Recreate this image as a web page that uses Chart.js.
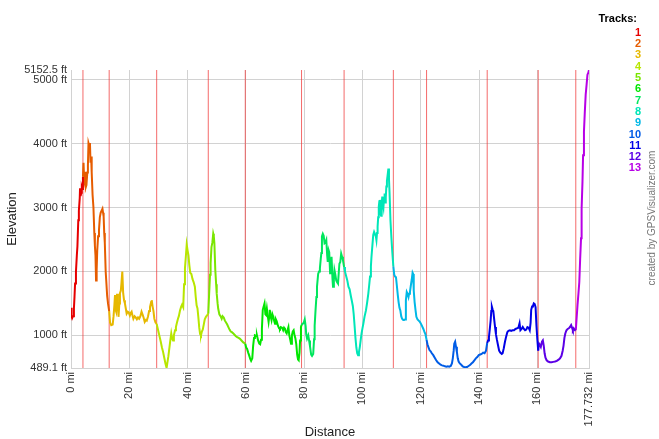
<!DOCTYPE html>
<html><head><meta charset="utf-8">
<script src="https://cdn.jsdelivr.net/npm/chart.js@4/dist/chart.umd.min.js"></script>
<style>html,body{margin:0;padding:0;background:#fff}#wrap{width:659px;height:439px;position:relative}</style>
</head><body><div id="wrap"><canvas id="c" width="659" height="439"></canvas></div>
<script>
// ---- data ----
const distanceMi = [
0,0.2,0.4,0.7,1.0,1.2,1.4,1.7,2.0,2.2,2.5,2.7,3.0,3.1,3.3,3.5,3.7,3.9,4.1,
4.3,4.5,4.7,4.9,5.1,5.3,5.6,5.8,6.0,6.3,6.5,6.7,6.9,7.1,7.4,7.7,8.0,8.2,8.4,8.6,8.8,9.0,9.3,9.6,9.9,10.2,10.5,10.8,11.0,11.2,11.4,11.6,11.9,12.1,12.4,12.7,13.1,
13.4,13.8,14.3,14.6,14.9,15.1,15.3,15.5,15.8,16.1,16.3,16.6,16.8,17.1,17.3,17.6,17.9,18.2,18.5,18.8,19.1,19.5,19.8,20.2,20.5,20.8,21.1,21.4,21.8,22.2,22.6,23.0,23.4,23.8,24.2,24.6,24.9,25.3,25.7,26.0,26.4,26.8,27.1,27.5,27.7,28.0,28.3,28.6,29.0,29.4,
29.8,30.3,30.8,31.2,31.6,32.0,32.4,32.8,33.1,33.4,33.8,34.1,34.4,34.7,35.0,35.3,35.7,36.0,36.3,36.7,37.0,37.4,37.8,38.1,38.5,38.8,39.1,39.4,39.7,40.0,40.3,40.6,40.9,41.3,41.7,42.1,42.5,42.8,43.1,43.4,43.7,44.0,44.3,44.6,44.9,45.2,45.6,45.9,46.3,46.8,47.1,
47.4,47.7,47.9,48.2,48.5,48.8,49.0,49.2,49.5,49.8,50.0,50.3,50.5,50.9,51.3,51.7,52.0,52.4,52.8,53.2,53.6,54.0,54.4,54.8,55.2,55.7,56.1,56.5,57.0,57.5,58.0,58.5,59.1,59.8,
60.1,60.4,60.8,61.1,61.5,61.8,62.2,62.5,62.8,63.1,63.5,63.8,64.2,64.6,64.9,65.2,65.5,65.8,66.1,66.4,66.7,66.9,67.2,67.5,67.8,68.0,68.2,68.5,68.8,69.1,69.4,69.7,70.0,70.3,70.6,71.0,71.4,71.7,72.0,72.4,72.8,73.1,73.4,73.7,74.0,74.4,74.6,74.9,75.2,75.5,75.8,76.1,76.4,76.7,77.0,77.3,77.6,77.9,78.1,78.4,78.6,78.9,79.1,
79.4,79.8,80.2,80.5,80.7,81.0,81.4,81.7,82.0,82.4,82.7,83.1,83.4,83.6,83.9,84.2,84.4,84.8,85.1,85.4,85.7,85.9,86.1,86.4,86.7,87.0,87.3,87.6,87.9,88.1,88.4,88.6,88.9,89.1,89.4,89.7,89.9,90.2,90.4,90.7,91.0,91.3,91.6,91.9,92.1,92.4,92.7,93.0,93.3,93.7,
94.0,94.4,94.8,95.2,95.6,96.0,96.4,96.7,97.0,97.3,97.6,97.9,98.2,98.5,98.8,99.1,99.4,99.7,100.0,100.3,100.7,101.2,101.6,102.0,102.3,102.6,102.9,103.1,103.4,103.7,104.0,104.3,104.6,104.8,105.0,105.2,105.4,105.6,105.8,106.0,106.2,106.4,106.6,106.8,107.0,107.2,107.4,107.6,107.8,108.0,108.2,108.4,108.6,108.9,109.1,109.3,109.6,109.9,110.2,110.6,
110.9,111.2,111.5,111.8,112.1,112.4,112.7,113.0,113.3,113.6,114.0,114.3,114.6,114.9,115.2,115.5,115.8,116.0,116.3,116.6,116.9,117.2,117.4,117.6,117.9,118.2,118.5,118.9,119.3,119.7,120.1,120.5,120.9,121.3,121.6,122.0,
122.3,122.6,123.0,123.4,123.8,124.3,124.8,125.3,125.8,126.3,126.8,127.3,127.8,128.3,128.8,129.3,129.8,130.3,130.7,131.0,131.3,131.5,131.8,132.1,132.4,132.7,133.0,133.4,133.9,134.4,134.9,135.4,135.9,136.4,136.9,137.4,137.9,138.4,138.9,139.4,139.9,140.4,140.9,141.4,141.9,142.4,142.8,
143.1,143.4,143.7,144.0,144.2,144.4,144.7,144.9,145.2,145.5,145.8,146.1,146.5,146.9,147.3,147.8,148.1,148.5,148.9,149.3,149.7,150.1,150.6,151.0,151.5,152.0,152.5,153.0,153.5,153.9,154.2,154.6,155.0,155.4,155.8,156.2,156.6,157.0,157.4,157.7,157.9,158.2,158.5,158.8,159.1,159.4,159.7,160.0,160.3,
160.6,160.9,161.2,161.6,161.9,162.2,162.5,162.8,163.2,163.7,164.3,164.9,165.5,166.1,166.7,167.3,167.8,168.3,168.7,169.0,169.3,169.6,170.0,170.4,170.8,171.2,171.6,171.9,172.2,172.5,172.9,173.2,
173.5,173.8,174.1,174.4,174.7,175.0,175.2,175.5,175.7,176.0,176.3,176.6,176.9,177.2,177.5,177.732
];
const elevationFt = [
1430,1300,1270,1300,1420,1600,1810,2000,2250,2390,2800,2950,3150,3300,3180,3230,3320,3290,3480,
3700,3420,3380,3560,3320,3350,3550,3650,4010,3960,4010,3700,3800,3550,3200,3000,2600,2400,2250,1860,2020,2330,2550,2650,2850,2920,2950,2980,2920,2860,2600,2450,2000,1850,1620,1500,1380,
1200,1160,1170,1300,1480,1630,1400,1370,1650,1520,1290,1500,1660,1700,1810,2000,1660,1550,1500,1420,1340,1370,1360,1310,1350,1370,1310,1260,1300,1280,1250,1280,1260,1300,1370,1320,1280,1210,1240,1230,1290,1380,1440,1520,1550,1450,1380,1260,1200,1180,
1100,1000,900,810,740,650,560,489.1,580,670,820,930,1030,950,920,1000,1080,1130,1190,1260,1300,1390,1450,1480,1440,1800,2050,2230,2420,2330,2250,2100,1980,1960,1880,1830,1760,1600,1470,1420,1280,1120,1020,1000,1060,1090,1180,1250,1290,1320,1340,
1650,1950,2130,2380,2450,2590,2550,2440,2030,1800,1650,1500,1420,1330,1300,1260,1300,1280,1230,1200,1170,1130,1090,1060,1050,1030,1010,990,970,960,945,920,890,870,
810,790,730,690,630,600,640,840,960,1000,990,1000,920,870,860,930,1100,1400,1450,1500,1330,1320,1420,1310,1210,1280,1400,1300,1240,1330,1290,1230,1180,1250,1220,1150,1110,1100,1130,1120,1080,1120,1100,1050,1030,1100,1130,1000,940,870,1000,1060,1080,1000,950,860,700,620,610,730,920,1130,1160,
1180,1190,1250,1150,1020,950,1000,920,830,700,680,710,940,1150,1390,1600,1760,1960,2000,2050,2200,2290,2550,2590,2560,2440,2450,2490,2250,2150,2330,2300,1970,2050,2230,1900,1760,1870,2020,1950,1860,1830,1810,2000,2120,2150,2280,2230,2180,2070,
2000,1930,1860,1760,1720,1620,1530,1460,1330,1150,960,810,720,690,740,820,930,1030,1110,1180,1290,1390,1510,1650,1780,1920,2080,2230,2400,2570,2620,2620,2550,2490,2600,2700,2850,3010,3100,3120,2900,2870,3050,3170,3050,3000,3150,3220,3080,3150,3330,3420,3490,3610,3450,3230,2810,2550,2330,2080,
1950,1920,1910,1780,1640,1520,1430,1390,1300,1260,1240,1240,1250,1550,1680,1650,1600,1650,1680,1780,1870,1980,1960,1700,1520,1400,1290,1250,1230,1210,1180,1140,1100,1050,1020,930,
860,820,770,750,720,690,650,610,580,560,540,530,525,515,510,515,510,520,560,640,760,870,900,820,740,640,590,560,540,515,505,500,505,520,535,560,580,610,640,660,690,700,710,730,720,760,880,
920,970,1100,1240,1380,1450,1400,1380,1250,1130,1020,940,850,760,730,710,720,800,900,980,1050,1070,1080,1070,1080,1080,1100,1110,1120,1190,1080,1100,1130,1100,1080,1090,1130,1120,1080,1200,1400,1450,1460,1500,1490,1440,1150,940,760,
870,850,820,900,920,840,720,650,610,590,580,580,585,590,600,620,640,680,760,840,960,1030,1080,1100,1110,1130,1160,1120,1080,1110,1080,1080,
1280,1480,1650,1830,2200,2520,2990,3410,3820,4190,4500,4770,4920,5080,5110,5152.5
];
const trackBreaksMi = [4.1, 13.1, 29.4, 47.1, 59.8, 79.1, 93.7, 110.6, 122.0, 142.8, 160.3, 173.2];
const trackLabels = ['1','2','3','4','5','6','7','8','9','10','11','12','13'];
const trackColors = ['#e60000','#e65c00','#e6b800','#b8e600','#7ae600','#00e600','#00e65c','#00e6b8','#00b8e6','#005ce6','#0000e6','#5c00e6','#b800e6'];
const xTickValues = [0, 20, 40, 60, 80, 100, 120, 140, 160, 177.732];
const yTickValues = [489.1, 1000, 2000, 3000, 4000, 5000, 5152.5];
const xMin = 0, xMax = 177.732, yMin = 489.1, yMax = 5152.5;

// ---- build datasets, one per track ----
const bounds = [xMin, ...trackBreaksMi, xMax];
const datasets = trackLabels.map((lab, i) => {
  const pts = [];
  for (let k = 0; k < distanceMi.length; k++) {
    const d = distanceMi[k];
    if (d >= bounds[i] - 1e-9 && d <= bounds[i + 1] + 1e-9) pts.push({x: d, y: elevationFt[k]});
  }
  return {label: lab, data: pts, borderColor: trackColors[i], backgroundColor: trackColors[i],
    borderWidth: 2, pointRadius: 0, tension: 0, fill: false};
});

const FONT = "'Liberation Sans', Arial, sans-serif";

const decor = {
  id: 'decor',
  beforeDatasetsDraw(chart) {
    const {ctx, chartArea, scales} = chart;
    ctx.save();
    ctx.strokeStyle = 'rgba(240,50,50,0.72)';
    ctx.lineWidth = 1;
    trackBreaksMi.forEach(b => {
      const x = scales.x.getPixelForValue(b);
      ctx.beginPath(); ctx.moveTo(x, chartArea.top); ctx.lineTo(x, chartArea.bottom); ctx.stroke();
    });
    ctx.restore();
  },
  afterDraw(chart) {
    const {ctx, chartArea} = chart;
    ctx.save();
    // axis titles
    ctx.fillStyle = '#222';
    ctx.font = '13px ' + FONT;
    ctx.textAlign = 'center'; ctx.textBaseline = 'middle';
    ctx.fillText('Distance', (chartArea.left + chartArea.right) / 2, 432);
    ctx.save();
    ctx.translate(12, (chartArea.top + chartArea.bottom) / 2);
    ctx.rotate(-Math.PI / 2);
    ctx.fillText('Elevation', 0, 0);
    ctx.restore();
    // legend
    ctx.font = 'bold 11px ' + FONT;
    ctx.textAlign = 'right'; ctx.textBaseline = 'middle';
    ctx.fillStyle = '#000';
    ctx.fillText('Tracks:', 637, 19);
    trackLabels.forEach((lab, i) => {
      ctx.fillStyle = trackColors[i];
      ctx.fillText(lab, 641, 32.5 + i * 11.33);
    });
    // credit
    ctx.save();
    ctx.translate(652, 218);
    ctx.rotate(-Math.PI / 2);
    ctx.font = '10px ' + FONT;
    ctx.fillStyle = '#777';
    ctx.textAlign = 'center';
    ctx.fillText('created by GPSVisualizer.com', 0, 0);
    ctx.restore();
    ctx.restore();
  }
};

new Chart(document.getElementById('c'), {
  type: 'line',
  data: {datasets},
  options: {
    responsive: false, animation: false, devicePixelRatio: 1,
    parsing: false,
    layout: {padding: {left: 0, top: 70, right: 70, bottom: 0}},
    plugins: {legend: {display: false}, tooltip: {enabled: false}},
    scales: {
      x: {
        type: 'linear', min: xMin, max: xMax,
        afterBuildTicks: s => { s.ticks = xTickValues.map(v => ({value: v})); },
        afterFit: s => { s.height = 71; },
        ticks: {autoSkip: false, minRotation: 90, maxRotation: 90, padding: 4, color: '#333',
          font: {family: FONT, size: 11}, callback: v => v + ' mi'},
        grid: {color: '#d2d2d2', drawTicks: false, lineWidth: 1},
        border: {color: '#d2d2d2'}
      },
      y: {
        type: 'linear', min: yMin, max: yMax,
        afterBuildTicks: s => { s.ticks = yTickValues.map(v => ({value: v})); },
        afterFit: s => { s.width = 71; },
        ticks: {autoSkip: false, padding: 4, color: '#333',
          font: {family: FONT, size: 11}, callback: v => v + ' ft'},
        grid: {color: c => (c.tick && c.tick.value === yMax) ? 'rgba(0,0,0,0)' : '#d2d2d2', drawTicks: false, lineWidth: 1},
        border: {color: '#d2d2d2'}
      }
    }
  },
  plugins: [decor]
});
</script>
</body></html>
